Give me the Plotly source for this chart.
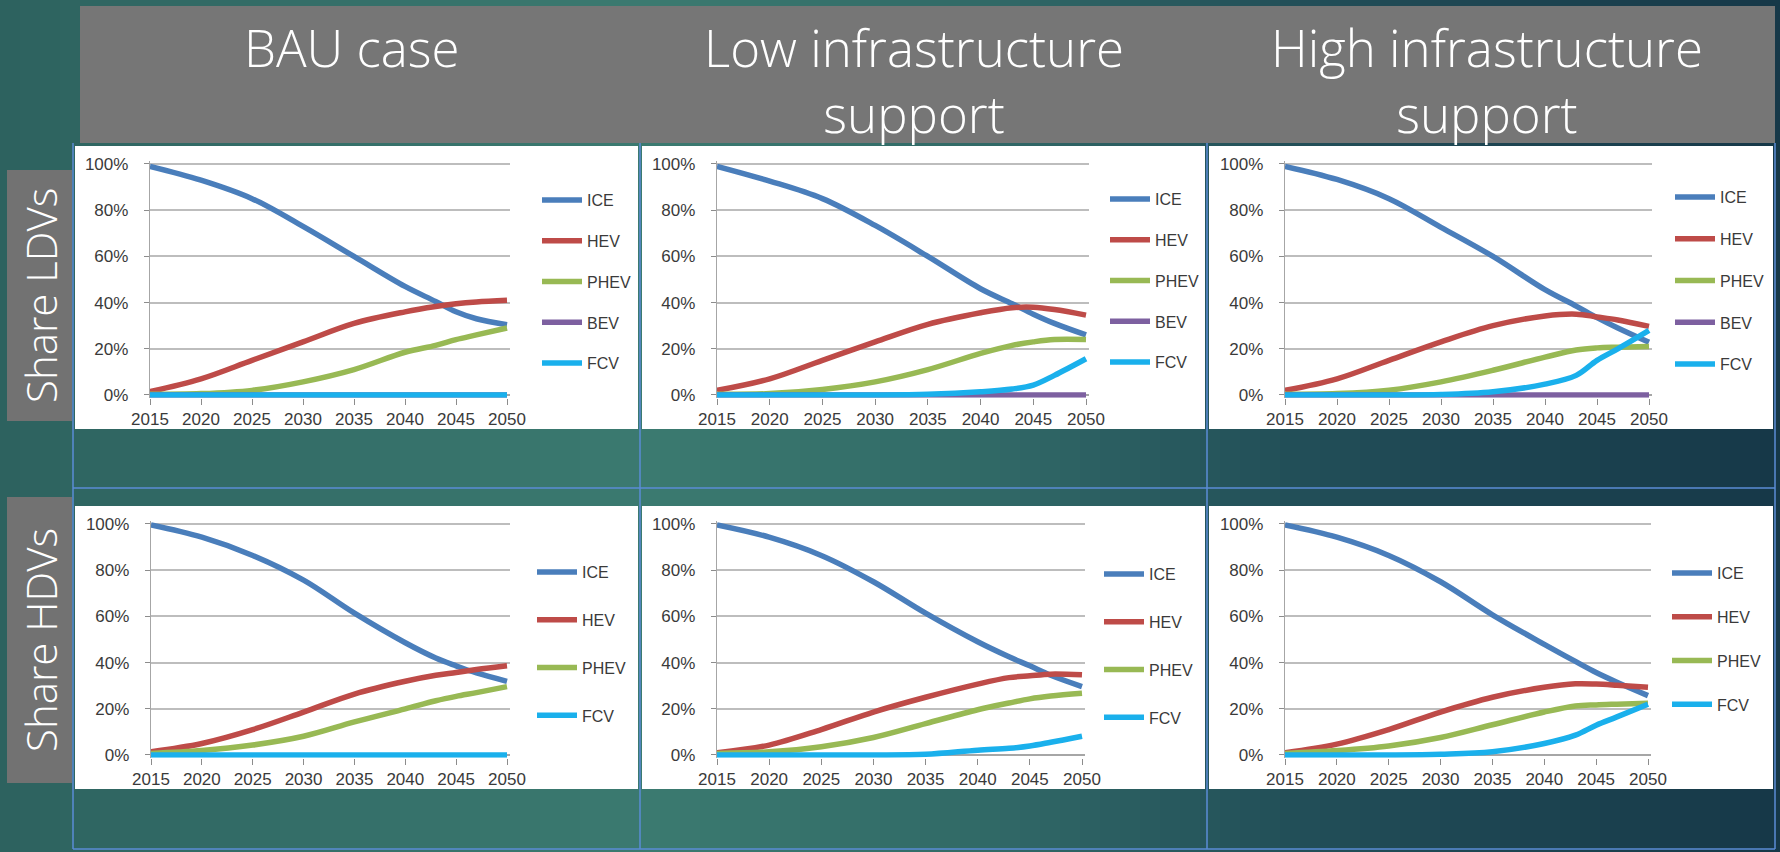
import plotly.graph_objects as go

W, H = 1780, 852

# ---------------- data (shares, %) ----------------
years = [2015, 2020, 2025, 2030, 2035, 2040, 2043, 2045, 2047, 2050]

columns = ["BAU case", "Low infrastructure<br>support", "High infrastructure<br>support"]
rows = ["Share LDVs", "Share HDVs"]

ldv_bau_ice = [99, 93, 85, 73, 60, 47, 40.5, 36, 33, 30.4]
ldv_bau_hev = [1.5, 7, 15, 23, 31, 36, 38.3, 39.5, 40.3, 41]
ldv_bau_phev = [0.3, 0.6, 2, 5.7, 11, 18.5, 21.5, 24, 26, 29]
ldv_bau_bev = [0, 0, 0, 0, 0, 0, 0, 0, 0, 0]
ldv_bau_fcv = [0, 0, 0, 0, 0, 0, 0, 0, 0, 0]

ldv_low_ice = [99, 92.6, 85, 73.4, 60, 46, 39.5, 35, 31, 26]
ldv_low_hev = [2, 7, 15, 23, 30.6, 35.6, 37.8, 38, 37, 34.6]
ldv_low_phev = [0.3, 0.6, 2.4, 5.7, 11, 18, 21.5, 23, 24, 24]
ldv_low_bev = [0, 0, 0, 0, 0, 0, 0, 0, 0, 0]
ldv_low_fcv = [0, 0, 0, 0, 0.3, 1.4, 2.6, 4.3, 8.5, 15.7]

ldv_high_ice = [99, 93.3, 85, 72.6, 60, 45.6, 38.5, 33.5, 29, 22.8]
ldv_high_hev = [2, 7, 15, 23, 30, 34.2, 35, 33.8, 32.5, 29.7]
ldv_high_phev = [0.3, 0.6, 2.1, 5.7, 10.7, 16.4, 19.5, 20.4, 20.7, 21]
ldv_high_bev = [0, 0, 0, 0, 0, 0, 0, 0, 0, 0]
ldv_high_fcv = [0, 0, 0, 0.2, 1.4, 4.7, 8.5, 15, 20, 28]

hdv_bau_ice = [99.6, 94.3, 86.4, 75.7, 61.4, 48.6, 42, 38.6, 35.5, 31.9]
hdv_bau_hev = [1.4, 5, 11, 18.6, 26.4, 31.9, 34.5, 35.7, 37, 38.6]
hdv_bau_phev = [0.7, 1.9, 4.3, 8.1, 14.3, 20, 23.5, 25.4, 27, 29.6]
hdv_bau_fcv = [0, 0, 0, 0, 0, 0, 0, 0, 0, 0]

hdv_low_ice = [99.6, 94.3, 86.4, 75, 61.4, 49, 42.5, 38.6, 34.5, 29.6]
hdv_low_hev = [1, 4.3, 11, 18.6, 25, 30.7, 33.5, 34.3, 35, 34.7]
hdv_low_phev = [0.7, 1.4, 3.6, 7.6, 13.6, 19.6, 22.5, 24.3, 25.5, 26.7]
hdv_low_fcv = [0, 0, 0, 0, 0.3, 2.1, 2.9, 3.9, 5.5, 8.1]

hdv_high_ice = [99.6, 94.3, 86.4, 75, 60.7, 47.9, 40.5, 35.7, 31.5, 25.7]
hdv_high_hev = [1, 4.7, 11, 18.6, 25, 29.3, 30.8, 30.7, 30.2, 29.3]
hdv_high_phev = [0.7, 1.9, 3.9, 7.6, 13.1, 18.6, 21.2, 21.7, 22, 22.4]
hdv_high_fcv = [0, 0, 0, 0.3, 1.4, 5, 8.6, 12.9, 16.5, 22]

x_ticks = [2015, 2020, 2025, 2030, 2035, 2040, 2045, 2050]
y_ticks = [0, 0.2, 0.4, 0.6, 0.8, 1.0]

colors = {"ICE": "#4A7EBB", "HEV": "#BE4B48", "PHEV": "#98B954",
          "BEV": "#7D60A0", "FCV": "#1AB0EC"}

panels = [
    (0, 0, {"ICE": ldv_bau_ice, "HEV": ldv_bau_hev, "PHEV": ldv_bau_phev, "BEV": ldv_bau_bev, "FCV": ldv_bau_fcv}),
    (0, 1, {"ICE": ldv_low_ice, "HEV": ldv_low_hev, "PHEV": ldv_low_phev, "BEV": ldv_low_bev, "FCV": ldv_low_fcv}),
    (0, 2, {"ICE": ldv_high_ice, "HEV": ldv_high_hev, "PHEV": ldv_high_phev, "BEV": ldv_high_bev, "FCV": ldv_high_fcv}),
    (1, 0, {"ICE": hdv_bau_ice, "HEV": hdv_bau_hev, "PHEV": hdv_bau_phev, "FCV": hdv_bau_fcv}),
    (1, 1, {"ICE": hdv_low_ice, "HEV": hdv_low_hev, "PHEV": hdv_low_phev, "FCV": hdv_low_fcv}),
    (1, 2, {"ICE": hdv_high_ice, "HEV": hdv_high_hev, "PHEV": hdv_high_phev, "FCV": hdv_high_fcv}),
]

# ---------------- layout geometry (pixels) ----------------
def fx(px):
    return px / W

def fy(py):
    return 1 - py / H

x_px = {(0, 0): (150, 507), (0, 1): (717, 1086), (0, 2): (1285, 1649),
        (1, 0): (151, 507), (1, 1): (717, 1082), (1, 2): (1285, 1648)}
y_px = {0: (164, 395), 1: (524, 755)}
YLO, YHI = -0.012, 1.012
XHI = 2050.25

# legend: (line start x px, first item center y px, group gap)
leg_pos = {(0, 0): (542, 202, 17), (0, 1): (1110, 201, 17), (0, 2): (1675, 199, 18),
           (1, 0): (537, 574, 24), (1, 1): (1104, 576, 24), (1, 2): (1672, 575, 20)}

col_left = [73, 640, 1207]
col_right = [640, 1207, 1775]
white_rows = [(146, 429), (506, 789)]

fig = go.Figure()

# ---------------- background gradient ----------------
stops = [(0, (45, 98, 95)), (300, (52, 110, 104)), (650, (59, 122, 112)),
         (1000, (48, 104, 102)), (1300, (34, 78, 88)), (1780, (22, 56, 72))]

def col_at(x):
    for (x0, c0), (x1, c1) in zip(stops[:-1], stops[1:]):
        if x0 <= x <= x1:
            t = (x - x0) / (x1 - x0)
            return "rgb(%d,%d,%d)" % tuple(round(a + (b - a) * t) for a, b in zip(c0, c1))
    return "rgb(%d,%d,%d)" % stops[-1][1]

shapes = []
step = 20
for x0 in range(0, W, step):
    shapes.append(dict(type="rect", xref="paper", yref="paper", x0=fx(x0), x1=fx(x0 + step + 1),
                       y0=0, y1=1, fillcolor=col_at(x0 + step / 2), line=dict(width=0), layer="below"))

shapes.append(dict(type="rect", xref="paper", yref="paper", x0=fx(80), x1=fx(1775), y0=fy(143), y1=fy(6),
                   fillcolor="#767676", line=dict(width=0), layer="below"))
for (t, b) in [(170, 421), (497, 783)]:
    shapes.append(dict(type="rect", xref="paper", yref="paper", x0=fx(7), x1=fx(72), y0=fy(b), y1=fy(t),
                       fillcolor="#727272", line=dict(width=0), layer="below"))
for (t, b) in white_rows:
    for c in range(3):
        shapes.append(dict(type="rect", xref="paper", yref="paper", x0=fx(col_left[c] + 2), x1=fx(col_right[c] - 2),
                           y0=fy(b), y1=fy(t), fillcolor="white", line=dict(width=0), layer="below"))
tbl = "#5B8DD6"
for xv in [73, 640, 1207, 1775]:
    shapes.append(dict(type="line", xref="paper", yref="paper", x0=fx(xv), x1=fx(xv), y0=fy(849), y1=fy(143),
                       line=dict(color=tbl, width=1.5), layer="below"))
for yv in [488, 849]:
    shapes.append(dict(type="line", xref="paper", yref="paper", x0=fx(73), x1=fx(1775), y0=fy(yv), y1=fy(yv),
                       line=dict(color=tbl, width=1.5), layer="below"))

# ---------------- traces / axes ----------------
tick_font = dict(family="Liberation Sans, Arial, sans-serif", size=17, color="#3a3a3a")
k = 0
for (r, c, series) in panels:
    k += 1
    xa = "x" if k == 1 else "x%d" % k
    ya = "y" if k == 1 else "y%d" % k
    lg = "legend" if k == 1 else "legend%d" % k
    x2015, x2050 = x_px[(r, c)]
    ppy = (x2050 - x2015) / 35.0
    dom_x = [fx(x2015), fx(x2050 + (XHI - 2050) * ppy)]
    y100, y0 = y_px[r]
    ppv = (y0 - y100)
    dom_y = [fy(y0 - YLO * ppv), fy(y100 - (YHI - 1) * ppv)]
    for name, vals in series.items():
        fig.add_trace(go.Scatter(
            x=years, y=[v / 100 for v in vals], name=name, mode="lines",
            line=dict(color=colors[name], width=5.5, shape="spline", smoothing=1.0),
            xaxis=xa, yaxis=ya, legend=lg, legendgroup="%s_%d" % (name, k),
            hoverinfo="x+y+name"))
    axn = "" if k == 1 else str(k)
    fig.layout["xaxis" + axn] = dict(
        domain=dom_x, range=[2015, XHI], anchor=ya, tickvals=x_ticks, ticks="outside", ticklen=6,
        tickcolor="#8c8c8c", tickwidth=1.2, showgrid=False, showline=False, zeroline=False,
        tickfont=tick_font, fixedrange=True)
    fig.layout["yaxis" + axn] = dict(
        domain=dom_y, range=[YLO, YHI], anchor=xa, tickvals=y_ticks, tickformat=".0%", ticks="outside",
        ticklen=5, tickcolor="#8c8c8c", tickwidth=1.2, showgrid=True, gridcolor="#BDBDBD", gridwidth=1.6,
        zeroline=True, zerolinecolor="#A6A6A6", zerolinewidth=1.6, showline=True, linecolor="#A6A6A6",
        linewidth=1.4, tickfont=tick_font, ticklabelstandoff=12, fixedrange=True)
    lx, ly, gap = leg_pos[(r, c)]
    fig.layout[lg] = dict(
        x=fx(lx - 5), y=fy(ly - 19), xref="paper", yref="paper", xanchor="left", yanchor="top",
        bgcolor="rgba(0,0,0,0)", borderwidth=0, tracegroupgap=gap, itemwidth=40,
        font=dict(family="Liberation Sans, Arial, sans-serif", size=16, color="#3a3a3a"),
        orientation="v")

# ---------------- titles ----------------
annotations = []
title_font = dict(family="Open Sans, Lato, sans-serif", size=51, color="white", weight=300)
centers = [352, 914, 1487]
for c, t in enumerate(columns):
    annotations.append(dict(text=t, x=fx(centers[c]), y=fy(10), xref="paper", yref="paper",
                            xanchor="center", yanchor="top", showarrow=False, font=title_font))
row_centers = [296, 640]
for r, t in enumerate(rows):
    annotations.append(dict(text=t, x=fx(40), y=fy(row_centers[r]), xref="paper", yref="paper",
                            xanchor="center", yanchor="middle", showarrow=False, textangle=-90,
                            font=dict(family="Open Sans, Lato, sans-serif", size=42, color="white", weight=300)))

fig.update_layout(
    width=W, height=H, margin=dict(l=0, r=0, t=0, b=0, autoexpand=False),
    paper_bgcolor="#2d625f", plot_bgcolor="white",
    shapes=shapes, annotations=annotations, showlegend=True,
)

fig.write_html("out.html", config={"displayModeBar": False},
               post_script="document.body.style.margin='0';document.body.style.padding='0';")
